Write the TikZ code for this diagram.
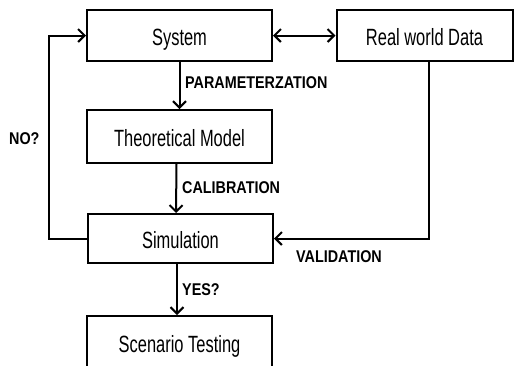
\documentclass[tikz,border=0pt]{standalone}
\usepackage{fontspec}
\setmainfont[FakeStretch=0.7]{Liberation Sans}
\newfontfamily\lblfont[FakeStretch=0.845]{Liberation Sans}
\usetikzlibrary{arrows.meta}
\begin{document}
\begin{tikzpicture}[x=1pt,y=-1pt,
  box/.style={draw, line width=2pt, inner sep=0pt, minimum width=185pt,
    text height=20.5pt, text depth=0pt,
    font=\fontsize{23.5}{26}\selectfont},
  lbl/.style={anchor=west, inner sep=0pt, font=\lblfont\bfseries\fontsize{17}{19}\selectfont},
  tipstyle/.style={},
  conn/.style={line width=2pt, -{Straight Barb[length=6.5pt,width=13pt,line width=2pt]}},
  dconn/.style={line width=2pt, {Straight Barb[length=6.5pt,width=13pt,line width=2pt]}-{Straight Barb[length=6.5pt,width=13pt,line width=2pt]}}]
\useasboundingbox (0,0) rectangle (514,365);
\fill[white] (0,0) rectangle (514,365);
\node[box, minimum height=51pt] (sys) at (179.5,35.5) {System};
\node[box, minimum height=51pt, minimum width=176pt] (rwd) at (424.5,35.5) {Real world Data};
\node[box, minimum height=53pt] (theo) at (179.5,136.5) {Theoretical Model};
\node[box, minimum height=49pt] (sim) at (180.5,238.5) {Simulation};
\node[box, minimum height=52pt] (scen) at (179.5,342) {Scenario Testing};
\draw[dconn] (sys.east) -- (rwd.west);
\draw[conn] (sys.south) -- (theo.north);
\draw[conn] ([xshift=-3pt]theo.south) -- ([xshift=-4.5pt]sim.north);
\draw[conn] ([xshift=-3.5pt]sim.south) -- ([xshift=-2.5pt]scen.north);
\draw[conn] (sim.west) -- ++(-38,0) |- (sys.west);
\draw[conn] ([xshift=4.5pt]rwd.south) |- (sim.east);
\node[lbl] (lp) at (185,83) {PARAMETERZATION};
\node[lbl] (lc) at (182,188) {CALIBRATION};
\node[lbl] (lv) at (296,257) {VALIDATION};
\node[lbl] (ly) at (182,290) {YES?};
\node[lbl] (ln) at (9,139) {NO?};
\end{tikzpicture}
\end{document}
